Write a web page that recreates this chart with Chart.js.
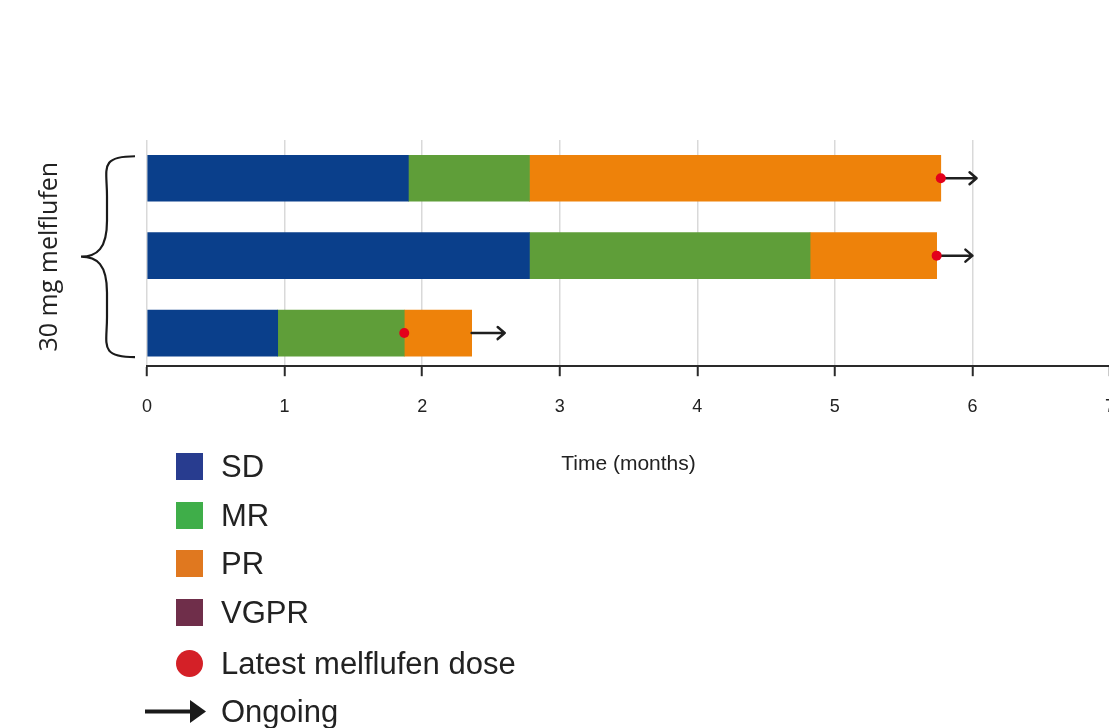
<!DOCTYPE html>
<html>
<head>
<meta charset="utf-8">
<script src="https://cdn.jsdelivr.net/npm/chart.js@4/dist/chart.umd.min.js"></script>
<style>
  html, body { margin: 0; padding: 0; background: #fff; overflow: hidden; }
  #wrap { position: relative; width: 1135px; height: 728px; }
  .leg { position: absolute; left: 0; font-family: "Liberation Sans", Arial, sans-serif; font-size: 31px; color: #222; }
  .leg .sw { position: absolute; left: 176px; width: 27px; height: 27px; }
  .leg .tx { position: absolute; left: 221px; white-space: nowrap; line-height: 31px; }
</style>
</head>
<body>
<div id="wrap">
  <canvas id="swimmer"></canvas>
  <div id="legend"></div>
</div>
<script>
// patient rows (top to bottom)
const patients = [0, 1, 2];
// response phase boundaries, months
const sdEnd = [1.9, 2.78, 0.95];
const mrEnd = [2.78, 4.82, 1.87];
const prEnd = [5.77, 5.74, 2.36];
// latest melflufen dose, months
const doseTime = [5.77, 5.74, 1.87];
// ongoing arrows end, months
const arrowEnd = [6.03, 6.0, 2.6];
const xTicks = [0, 1, 2, 3, 4, 5, 6, 7];

const legendItems = [
  { label: 'SD', color: '#283c8f', kind: 'box' },
  { label: 'MR', color: '#3fae49', kind: 'box' },
  { label: 'PR', color: '#e0781f', kind: 'box' },
  { label: 'VGPR', color: '#6f2e4a', kind: 'box' },
  { label: 'Latest melflufen dose', color: '#d42027', kind: 'dot' },
  { label: 'Ongoing', color: '#1a1a1a', kind: 'arrow' }
];

function phase(starts, ends) {
  return patients.map((p, i) => ({ y: p, x: [starts ? starts[i] : 0, ends[i]] }));
}

// arrows + brace + side label
const extras = {
  id: 'extras',
  afterDatasetDraw(chart, args) {
    if (args.index !== 2) return;
    const { ctx, scales } = chart;
    ctx.save();
    ctx.strokeStyle = '#1f1f1f';
    ctx.lineWidth = 2.5;
    ctx.lineCap = 'round';
    ctx.lineJoin = 'round';
    patients.forEach((p, i) => {
      const x0 = scales.x.getPixelForValue(prEnd[i]);
      const x1 = scales.x.getPixelForValue(arrowEnd[i]);
      const y = scales.y.getPixelForValue(p);
      ctx.beginPath();
      ctx.moveTo(x0, y);
      ctx.lineTo(x1, y);
      ctx.moveTo(x1 - 7, y - 6);
      ctx.lineTo(x1, y);
      ctx.lineTo(x1 - 7, y + 6);
      ctx.stroke();
    });
    ctx.restore();
  },
  afterDraw(chart) {
    const { ctx, chartArea, scales } = chart;
    const top = scales.y.getPixelForValue(patients[0]) - 22;
    const bot = scales.y.getPixelForValue(patients[patients.length - 1]) + 24;
    const mid = (top + bot) / 2;
    const xr = chartArea.left - 12;
    const xm = chartArea.left - 40;
    const xt = chartArea.left - 66;
    ctx.save();
    ctx.strokeStyle = '#1a1a1a';
    ctx.lineWidth = 2.2;
    ctx.beginPath();
    ctx.moveTo(xr, top);
    ctx.bezierCurveTo(xm - 8, top, xm, top + 12, xm, top + 40);
    ctx.lineTo(xm, mid - 36);
    ctx.bezierCurveTo(xm, mid - 8, xm - 10, mid, xt, mid);
    ctx.bezierCurveTo(xm - 10, mid, xm, mid + 8, xm, mid + 36);
    ctx.lineTo(xm, bot - 40);
    ctx.bezierCurveTo(xm, bot - 12, xm - 8, bot, xr, bot);
    ctx.stroke();

    ctx.translate(50, mid);
    ctx.rotate(-Math.PI / 2);
    ctx.fillStyle = '#222';
    ctx.font = '25px "Open Sans", sans-serif';
    ctx.textAlign = 'center';
    ctx.textBaseline = 'middle';
    ctx.fillText('30 mg melflufen', 0, 0);
    ctx.restore();
  }
};

const barBase = { grouped: false, barThickness: 46, borderSkipped: false, borderWidth: 0, order: 2 };

new Chart(document.getElementById('swimmer'), {
  type: 'bar',
  data: {
    datasets: [
      { ...barBase, label: 'SD', data: phase(null, sdEnd), backgroundColor: '#0a3f8b' },
      { ...barBase, label: 'MR', data: phase(sdEnd, mrEnd), backgroundColor: '#5f9e39' },
      { ...barBase, label: 'PR', data: phase(mrEnd, prEnd), backgroundColor: '#ee820a' },
      {
        type: 'scatter',
        label: 'Latest melflufen dose',
        data: patients.map((p, i) => ({ x: doseTime[i], y: p })),
        backgroundColor: '#e3001b',
        borderWidth: 0,
        pointRadius: 5,
        order: 1
      }
    ]
  },
  options: {
    indexAxis: 'y',
    responsive: true,
    maintainAspectRatio: false,
    animation: false,
    layout: { padding: { left: 147, top: 140, right: 20, bottom: 251 } },
    plugins: { legend: { display: false }, tooltip: { enabled: false } },
    scales: {
      x: {
        type: 'linear',
        min: 0,
        max: 7,
        afterBuildTicks: (axis) => { axis.ticks = xTicks.map(v => ({ value: v })); },
        grid: { color: '#d9d9d9', lineWidth: 1.5, tickColor: '#2a2a2a', tickLength: 10, tickWidth: 2 },
        border: { color: '#2a2a2a', width: 2 },
        ticks: { color: '#222', padding: 20, font: { family: '"Liberation Sans", Arial, sans-serif', size: 18 } },
        title: {
          display: true,
          text: 'Time (months)',
          color: '#222',
          padding: { top: 14, bottom: 0 },
          font: { family: '"Liberation Sans", Arial, sans-serif', size: 21 }
        }
      },
      y: {
        type: 'linear',
        reverse: true,
        offset: false,
        min: -0.494,
        max: 2.428,
        display: false
      }
    }
  },
  plugins: [extras]
});

// legend below the chart
const legend = document.getElementById('legend');
const rowsY = [466, 515, 563, 612, 663, 711];
legendItems.forEach((item, i) => {
  const row = document.createElement('div');
  row.className = 'leg';
  row.style.top = (rowsY[i] - 15) + 'px';
  let mark = '';
  if (item.kind === 'box') {
    mark = `<div class="sw" style="top:2px;background:${item.color}"></div>`;
  } else if (item.kind === 'dot') {
    mark = `<div class="sw" style="top:2px;border-radius:50%;background:${item.color}"></div>`;
  } else {
    mark = `<svg style="position:absolute;left:143px;top:0" width="64" height="31">
      <line x1="2" y1="15.5" x2="50" y2="15.5" stroke="${item.color}" stroke-width="4"/>
      <polygon points="47,4 63,15.5 47,27" fill="${item.color}"/></svg>`;
  }
  row.innerHTML = mark + `<div class="tx">${item.label}</div>`;
  legend.appendChild(row);
});
</script>
</body>
</html>
